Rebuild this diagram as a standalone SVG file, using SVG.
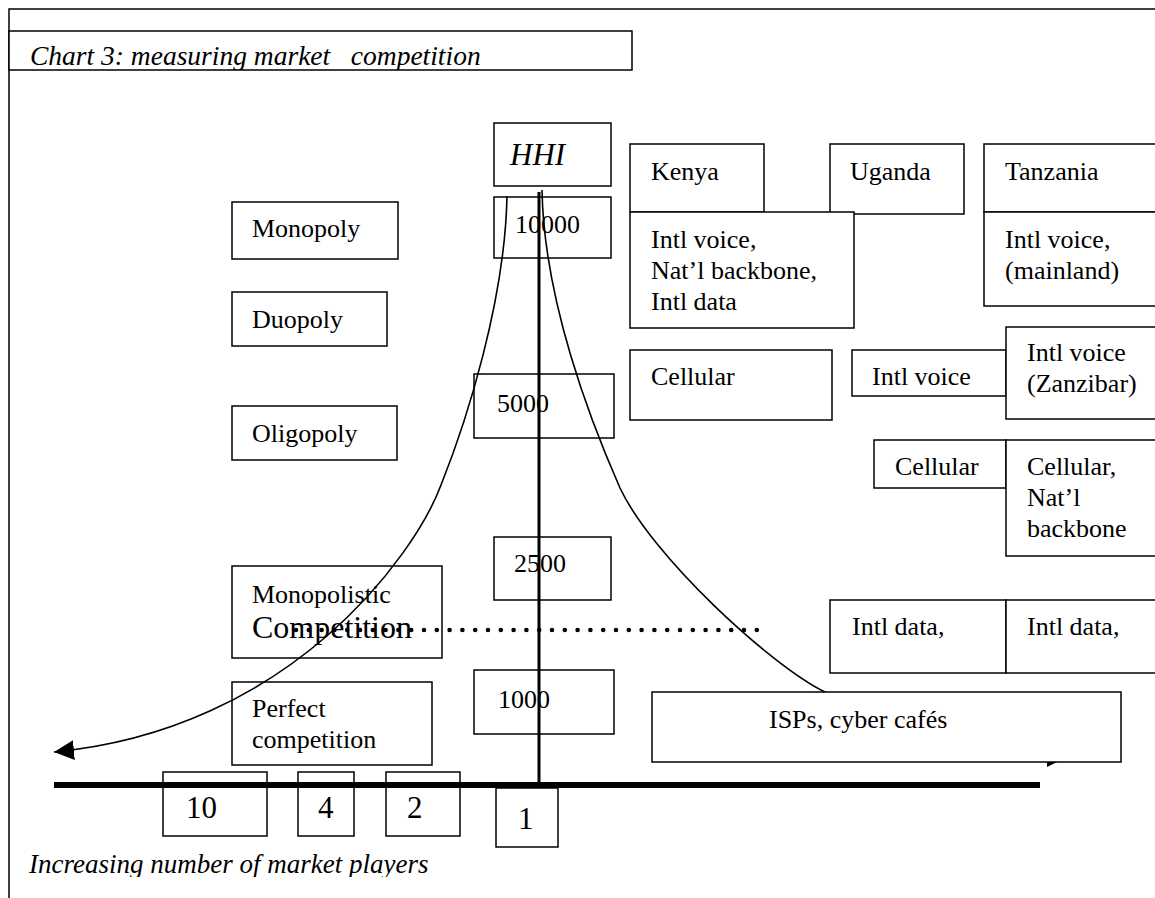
<svg xmlns="http://www.w3.org/2000/svg" width="1155" height="898" viewBox="0 0 1155 898">
<style>
  .box { fill: #fff; stroke: #000; stroke-width: 1.5; }
  .t { font-family: "Liberation Serif", "Times New Roman", serif; font-size: 26px; fill: #000; }
  .ti { font-family: "Liberation Serif", "Times New Roman", serif; font-size: 27px; font-style: italic; fill: #000; }
  .num { font-family: "Liberation Serif", "Times New Roman", serif; font-size: 31px; fill: #000; }
  .curve { fill: none; stroke: #000; stroke-width: 1.6; }
  .axis { fill: none; stroke: #000; }
  .frame { fill: none; stroke: #000; stroke-width: 1.5; }
</style>
<defs>
  <marker id="arrow" viewBox="0 0 20 20" refX="20" refY="10" markerWidth="20" markerHeight="20" markerUnits="userSpaceOnUse" orient="auto">
    <path d="M0,0 L20,10 L0,20 Z" fill="#000"/>
  </marker>
  <clipPath id="clipTitle"><rect x="9" y="31" width="623" height="39"/></clipPath>
  <clipPath id="clipBottom"><rect x="10" y="840" width="600" height="37"/></clipPath>
</defs>
<rect width="1155" height="898" fill="#fff"/>

<g id="frame">
  <path class="frame" d="M9,898 V9 H1155"/>
</g>

<g id="title">
  <rect class="box" x="9" y="31" width="623" height="39"/>
  <text class="ti" x="30" y="65" style="font-size:27.5px" clip-path="url(#clipTitle)" xml:space="preserve">Chart 3: measuring market   competition</text>
</g>

<!-- left column -->
<g id="monopoly"><rect class="box" x="232" y="202" width="166" height="57"/><text class="t" x="252" y="237">Monopoly</text></g>
<g id="duopoly"><rect class="box" x="232" y="292" width="155" height="54"/><text class="t" x="252" y="328">Duopoly</text></g>
<g id="oligopoly"><rect class="box" x="232" y="406" width="165" height="54"/><text class="t" x="252" y="442">Oligopoly</text></g>
<g id="monopolistic"><rect class="box" x="232" y="566" width="210" height="92"/><text class="t" x="252" y="603">Monopolistic</text><text class="t" x="252" y="638" style="font-size:32px">Competition</text></g>
<g id="perfect"><rect class="box" x="232" y="682" width="200" height="83"/><text class="t" x="252" y="717">Perfect</text><text class="t" x="252" y="748">competition</text></g>

<!-- HHI scale -->
<g id="hhi"><rect class="box" x="494" y="123" width="117" height="63"/><text class="ti" x="510" y="165" style="font-size:31px">HHI</text></g>
<g id="h10000"><rect class="box" x="494" y="197" width="117" height="61"/><text class="t" x="515" y="233">10000</text></g>
<g id="h5000"><rect class="box" x="474" y="374" width="140" height="64"/><text class="t" x="497" y="412">5000</text></g>
<g id="h2500"><rect class="box" x="494" y="537" width="117" height="63"/><text class="t" x="514" y="572">2500</text></g>
<g id="h1000"><rect class="box" x="474" y="670" width="140" height="64"/><text class="t" x="498" y="708">1000</text></g>

<!-- countries -->
<g id="kenya"><rect class="box" x="630" y="144" width="134" height="68"/><text class="t" x="651" y="180">Kenya</text></g>
<g id="uganda"><rect class="box" x="830" y="144" width="134" height="70"/><text class="t" x="850" y="180">Uganda</text></g>
<g id="tanzania"><rect class="box" x="984" y="144" width="180" height="68"/><text class="t" x="1005" y="180">Tanzania</text></g>
<g id="kenya-mono"><rect class="box" x="630" y="212" width="224" height="116"/><text class="t" x="651" y="248">Intl voice,</text><text class="t" x="651" y="279">Nat’l backbone,</text><text class="t" x="651" y="310">Intl data</text></g>
<g id="tanzania-mono"><rect class="box" x="984" y="212" width="180" height="94"/><text class="t" x="1005" y="248">Intl voice,</text><text class="t" x="1005" y="279">(mainland)</text></g>
<g id="kenya-cellular"><rect class="box" x="630" y="350" width="202" height="70"/><text class="t" x="651" y="385">Cellular</text></g>
<g id="uganda-voice"><rect class="box" x="852" y="350" width="154" height="46"/><text class="t" x="872" y="385">Intl voice</text></g>
<g id="zanzibar-voice"><rect class="box" x="1006" y="327" width="160" height="92"/><text class="t" x="1027" y="361">Intl voice</text><text class="t" x="1027" y="392">(Zanzibar)</text></g>
<g id="uganda-cellular"><rect class="box" x="874" y="440" width="132" height="48"/><text class="t" x="895" y="475">Cellular</text></g>
<g id="tanzania-cellular"><rect class="box" x="1006" y="440" width="160" height="116"/><text class="t" x="1027" y="475">Cellular,</text><text class="t" x="1027" y="506">Nat’l</text><text class="t" x="1027" y="537">backbone</text></g>
<g id="uganda-data"><rect class="box" x="830" y="600" width="176" height="73"/><text class="t" x="852" y="635">Intl data,</text></g>
<g id="tanzania-data"><rect class="box" x="1006" y="600" width="160" height="73"/><text class="t" x="1027" y="635">Intl data,</text></g>

<!-- players -->
<g id="p10"><rect class="box" x="163" y="772" width="104" height="64"/><text class="num" x="186" y="818">10</text></g>
<g id="p4"><rect class="box" x="298" y="772" width="56" height="64"/><text class="num" x="318" y="818">4</text></g>
<g id="p2"><rect class="box" x="386" y="772" width="74" height="64"/><text class="num" x="407" y="818">2</text></g>
<g id="p1"><rect class="box" x="496" y="788" width="62" height="59"/><text class="num" x="518" y="829">1</text></g>

<g id="connectors">
  <path class="axis" d="M539,192 V785" stroke-width="3"/>
  <path class="axis" d="M54,785 H1040" stroke-width="6"/>
  <path class="axis" d="M296,630 H766" stroke-width="4.6" stroke-linecap="round" stroke-dasharray="0 12.8"/>
  <path class="curve" d="M507,196 C505,300 467,420 441,485 C415,555 290,730 54,752" marker-end="url(#arrow)"/>
  <path class="curve" d="M542,190 C544,300 590,420 620,488 C652,556 770,665 825,692 C900,729 1000,757 1067,757" marker-end="url(#arrow)"/>
</g>

<g id="isps"><rect class="box" x="652" y="692" width="469" height="70"/><text class="t" x="769" y="728">ISPs, cyber cafés</text></g>

<g id="xlabel">
  <text class="ti" x="29" y="873" clip-path="url(#clipBottom)">Increasing number of market players</text>
</g>
</svg>
